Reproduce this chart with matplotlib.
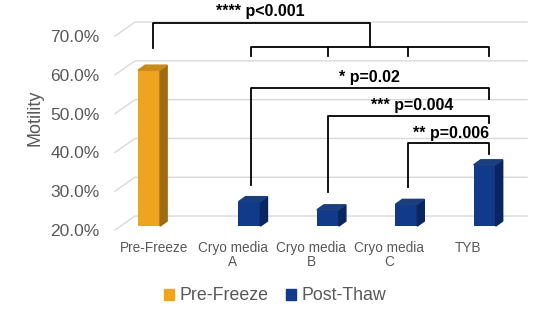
import matplotlib.pyplot as plt
from matplotlib.patches import Polygon, Patch

plt.rcParams['font.family'] = ['Liberation Sans', 'DejaVu Sans']

# ---- data ----
categories = ['Pre-Freeze', 'Cryo media\nA', 'Cryo media\nB', 'Cryo media\nC', 'TYB']
series = ['Pre-Freeze', 'Post-Thaw', 'Post-Thaw', 'Post-Thaw', 'Post-Thaw']
motility = [60.2, 26.3, 24.2, 25.6, 35.8]
yticks = [20, 30, 40, 50, 60, 70]
ytick_labels = ['20.0%', '30.0%', '40.0%', '50.0%', '60.0%', '70.0%']

# face / side / top colours per series
colors = {
    'Pre-Freeze': ('#EEA41F', '#9E6A12', '#C98A18'),
    'Post-Thaw': ('#113A8A', '#0A2560', '#1B3F7E'),
}
slot = {'Pre-Freeze': -0.065, 'Post-Thaw': 0.215}

fig = plt.figure(figsize=(5.39, 3.23), dpi=100)
ax = fig.add_axes([115 / 539, 93 / 323, 412 / 539, 225 / 323])
ax.set_xlim(-0.5, 4.755)
ax.set_ylim(20, 78)
for s in ax.spines.values():
    s.set_visible(False)

# floor / grid in pseudo 3d
gdx, gdy = 0.255, 3.6
for v in yticks:
    ax.plot([-0.5, -0.5 + gdx, 4.755], [v, v + gdy, v + gdy],
            color='#D9D9D9', lw=1, zorder=1, clip_on=False)

# bars with a little depth; bars stand at mid depth, so shift them by `mid`
bw = 0.28
ddx, ddy = 0.09, 1.3
mid = 1.0
base = 20 + mid
for i, (val, ser) in enumerate(zip(motility, series)):
    front, side, top = colors[ser]
    x0 = i + slot[ser] - bw / 2
    y1 = val + mid
    ax.bar(x0, y1 - base, width=bw, bottom=base, align='edge',
           color=front, zorder=3)
    ax.add_patch(Polygon([(x0 + bw, base), (x0 + bw + ddx, base + ddy),
                          (x0 + bw + ddx, y1 + ddy), (x0 + bw, y1)],
                         closed=True, color=side, zorder=3))
    ax.add_patch(Polygon([(x0, y1), (x0 + bw, y1), (x0 + bw + ddx, y1 + ddy),
                          (x0 + ddx, y1 + ddy)],
                         closed=True, color=top, zorder=3))

# significance brackets
kw = dict(color='black', lw=1.3, zorder=4, clip_on=False)
xp, xa, xb, xc, xt = -0.02, 1.23, 2.22, 3.24, 4.27
ax.plot([xp, xp, 2.755, 2.755], [66.9, 73.35, 73.35, 67.2], **kw)
ax.plot([xa, xa, xt, xt], [64.85, 67.2, 67.2, 64.85], **kw)
ax.plot([xb, xb], [67.2, 64.85], **kw)
ax.plot([xc, xc], [67.2, 64.85], **kw)
ax.plot([xa, xa, xt, xt], [31.6, 56.6, 56.6, 53.8], **kw)
ax.plot([xb, xb, xt, xt], [29.8, 49.4, 49.4, 47.6], **kw)
ax.plot([xc, xc, xt, xt], [31.1, 42.4, 42.4, 39.6], **kw)

tkw = dict(ha='center', va='center', fontsize=11.5, fontweight='bold', zorder=5)
ax.text(1.35, 76.2, '**** p<0.001', **tkw)
ax.text(2.74, 59.2, '* p=0.02', **tkw)
ax.text(3.29, 52.0, '*** p=0.004', **tkw)
ax.text(3.79, 45.0, '** p=0.006', **tkw)

# axes text
ax.set_yticks(yticks)
ax.set_yticklabels(ytick_labels, fontsize=12.5, color='#595959')
ax.set_xticks(range(len(categories)))
ax.set_xticklabels(categories, fontsize=9.8, color='#595959', linespacing=0.95)
ax.tick_params(axis='both', length=0)
ax.tick_params(axis='y', pad=11)
ax.tick_params(axis='x', pad=8)
ax.set_ylabel('Motility', fontsize=13, color='#595959', labelpad=5)

handles = [Patch(color=colors['Pre-Freeze'][0], label='Pre-Freeze'),
           Patch(color=colors['Post-Thaw'][0], label='Post-Thaw')]
fig.legend(handles=handles, loc='center', bbox_to_anchor=(0.51, 27 / 323), ncol=2,
           frameon=False, fontsize=12.8, handlelength=0.55, handleheight=0.55,
           handletextpad=0.3, columnspacing=1.0, labelcolor='#595959')

fig.savefig('out.png', dpi=100)
